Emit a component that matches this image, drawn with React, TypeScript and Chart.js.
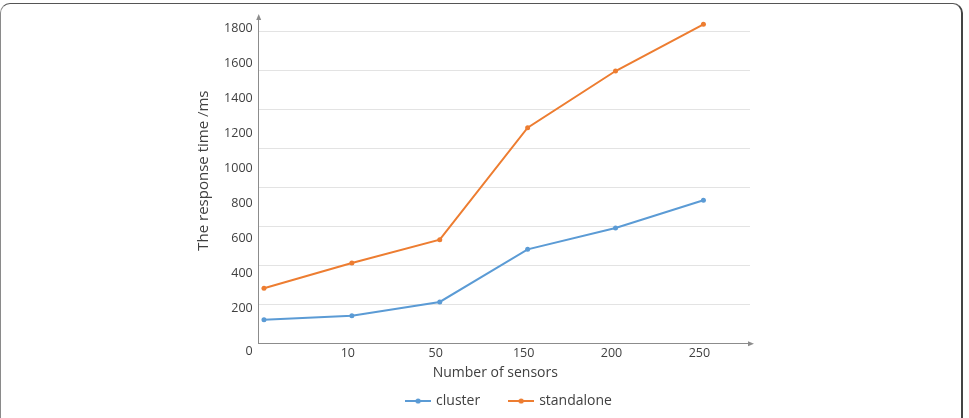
import React, { useEffect, useRef } from "react";
import { Chart, registerables } from "chart.js";

Chart.register(...registerables);

// ---- data ----
const categories = ["0", "10", "50", "150", "200", "250"];
const clusterValues = [137, 160, 238, 538, 660, 818];
const standaloneValues = [316, 460, 593, 1232, 1555, 1821];
const yTickValues = [0, 200, 400, 600, 800, 1000, 1200, 1400, 1600, 1800];
const gridValues = [0, 200, 400, 600, 800, 1000, 1200, 1400, 1600];

const seriesNames = ["cluster", "standalone"];
const BLUE = "#5b9bd5";
const ORANGE = "#ed7d31";
const TEXT = "#404040";
const AXIS = "#8c8c8c";
const GRID = "#e3e3e3";
const FONT = "'Open Sans', 'Noto Sans', sans-serif";

function makeMarker(color: string): HTMLCanvasElement {
  const c = document.createElement("canvas");
  c.width = 26;
  c.height = 8;
  const ctx = c.getContext("2d")!;
  ctx.strokeStyle = color;
  ctx.lineWidth = 2;
  ctx.beginPath();
  ctx.moveTo(0, 4);
  ctx.lineTo(26, 4);
  ctx.stroke();
  ctx.fillStyle = color;
  ctx.beginPath();
  ctx.arc(13, 4, 2.6, 0, Math.PI * 2);
  ctx.fill();
  return c;
}

const arrowPlugin = {
  id: "axisArrows",
  afterDraw(chart: any) {
    const { ctx, chartArea } = chart;
    const { left, top, right, bottom } = chartArea;
    ctx.save();
    ctx.fillStyle = AXIS;
    ctx.beginPath();
    ctx.moveTo(left, top - 3);
    ctx.lineTo(left - 2.5, top + 3);
    ctx.lineTo(left + 2.5, top + 3);
    ctx.closePath();
    ctx.fill();
    ctx.beginPath();
    ctx.moveTo(right + 4, bottom);
    ctx.lineTo(right - 2, bottom - 2.5);
    ctx.lineTo(right - 2, bottom + 2.5);
    ctx.closePath();
    ctx.fill();
    ctx.restore();
  },
};

export default function App() {
  const ref = useRef<HTMLCanvasElement | null>(null);

  useEffect(() => {
    document.body.style.margin = "0";
    const canvas = ref.current;
    if (!canvas) return;
    const markers = [makeMarker(BLUE), makeMarker(ORANGE)];

    const chart = new Chart(canvas, {
      type: "line",
      data: {
        datasets: [
          {
            label: seriesNames[0],
            data: clusterValues.map((v, i) => ({ x: i, y: v })),
            borderColor: BLUE,
            backgroundColor: BLUE,
            borderWidth: 2,
            pointRadius: 2.5,
            pointBorderWidth: 0,
            pointBackgroundColor: BLUE,
            tension: 0,
            yAxisID: "y",
          },
          {
            label: seriesNames[1],
            data: standaloneValues.map((v, i) => ({ x: i, y: v })),
            borderColor: ORANGE,
            backgroundColor: ORANGE,
            borderWidth: 2,
            pointRadius: 2.5,
            pointBorderWidth: 0,
            pointBackgroundColor: ORANGE,
            tension: 0,
            yAxisID: "y",
          },
        ],
      },
      options: {
        responsive: false,
        animation: false,
        devicePixelRatio: 1,
        layout: { padding: { left: 50, top: 17, right: 0, bottom: 0 } },
        plugins: {
          tooltip: { enabled: false },
          legend: {
            position: "bottom",
            labels: {
              usePointStyle: true,
              pointStyleWidth: 22,
              padding: 30,
              color: TEXT,
              font: { family: FONT, size: 14 },
              generateLabels: (ch: any) => {
                const items = (Chart.defaults as any).plugins.legend.labels.generateLabels(ch);
                items.forEach((it: any, i: number) => {
                  it.pointStyle = markers[i];
                });
                return items;
              },
            },
          },
        },
        scales: {
          x: {
            type: "linear",
            min: -0.06,
            max: 5.53,
            afterBuildTicks: (s: any) => {
              s.ticks = categories.map((_, i) => ({ value: i }));
            },
            afterFit: (s: any) => {
              s.height = 20.3;
            },
            ticks: {
              autoSkip: false,
              maxRotation: 0,
              padding: 2,
              labelOffset: -4,
              color: TEXT,
              font: { family: FONT, size: 12.5 },
              callback: (v: any) => (v === 0 ? "" : categories[v] ?? ""),
            },
            grid: { display: false, drawTicks: false },
            border: { display: true, color: AXIS, width: 1 },
            title: {
              display: true,
              text: "Number of sensors" + "     ",
              color: TEXT,
              font: { family: FONT, size: 14 },
              padding: { top: 0, bottom: -17.4 },
            },
          },
          y: {
            type: "linear",
            position: "left",
            min: 0,
            max: 1863,
            afterBuildTicks: (s: any) => {
              s.ticks = yTickValues.map((v) => ({ value: v }));
            },
            afterFit: (s: any) => {
              s.width = 208.7;
            },
            ticks: {
              padding: 6,
              color: TEXT,
              font: { family: FONT, size: 12.5 },
              callback: (v: any) => (v === 0 ? ["", "0"] : String(v)),
            },
            grid: { display: false, drawTicks: false },
            border: { display: true, color: AXIS, width: 1 },
            title: {
              display: true,
              text: "     " + "The response time /ms",
              color: TEXT,
              font: { family: FONT, size: 15 },
              padding: { top: 145, bottom: 0 },
            },
          },
          yGrid: {
            type: "linear",
            position: "right",
            min: 0,
            max: 1675.4,
            afterBuildTicks: (s: any) => {
              s.ticks = gridValues.map((v) => ({ value: v }));
            },
            afterFit: (s: any) => {
              s.width = 219;
            },
            ticks: { display: false },
            grid: { display: true, color: GRID, lineWidth: 1, drawTicks: false },
            border: { display: false },
          },
        },
      } as any,
      plugins: [arrowPlugin],
    });

    return () => chart.destroy();
  }, []);

  return (
    <div
      style={{
        position: "fixed",
        left: 0,
        top: 0,
        width: 969,
        height: 418,
        overflow: "hidden",
        background: "#fff",
      }}
    >
      <div
        style={{
          position: "absolute",
          left: 0,
          top: 3,
          width: 963,
          height: 440,
          boxSizing: "border-box",
          borderTop: "1.5px solid #555",
          borderRight: "2.5px solid #444",
          borderLeft: "1.5px solid #8a8a8a",
          borderBottom: "1.5px solid #555",
          borderRadius: 10,
        }}
      />
      <canvas
        ref={ref}
        width={969}
        height={418}
        style={{ position: "absolute", left: 0, top: 0, width: 969, height: 418 }}
      />
    </div>
  );
}
